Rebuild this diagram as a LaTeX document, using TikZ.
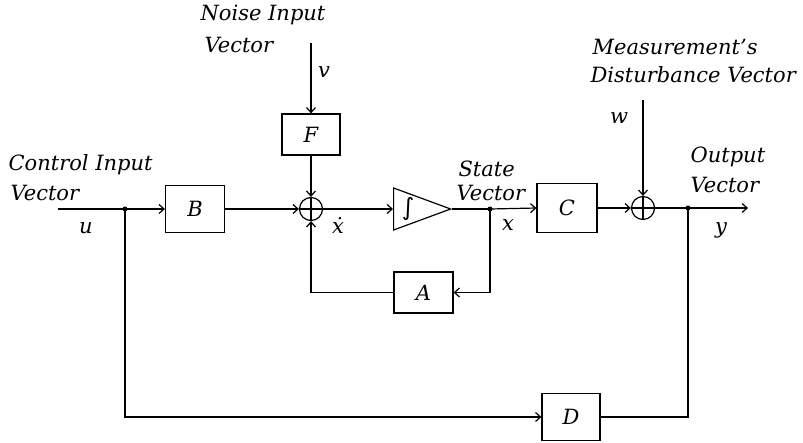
\documentclass[tikz,border=0pt]{standalone}
\usepackage{fontspec}
\setmainfont{DejaVu Serif}
\newfontfamily\dvsans{DejaVu Sans}
\usetikzlibrary{arrows.meta,shapes.geometric}
\begin{document}
\begin{tikzpicture}[x=1pt,y=-1pt,
  line width=1.2pt,
  >={Straight Barb[length=5pt,width=9pt]},
  blk/.style={draw,minimum width=58pt,minimum height=44pt,inner sep=0pt,font=\fontsize{21}{21}\selectfont\itshape},
  sum/.style={draw,circle,minimum size=23pt,inner sep=0pt,
    path picture={\draw[line width=1.2pt] (path picture bounding box.north) -- (path picture bounding box.south)
      (path picture bounding box.west) -- (path picture bounding box.east);}},
  lbl/.style={anchor=west,inner sep=0pt,font=\fontsize{21}{21}\selectfont\itshape},
  sym/.style={inner sep=0pt,font=\fontsize{21}{21}\selectfont\itshape},
  dot/.style={circle,fill,inner sep=0pt,minimum size=5pt}]
\useasboundingbox (0,0) rectangle (803,442);
% nodes
\coordinate (in) at (58,209);
\node[dot] (j1) at (125,209) {};
\node[blk,minimum width=59pt,minimum height=47pt] (B) at (195,209) {B};
\node[sum] (s1) at (311,209) {};
\node[blk,minimum width=58pt,minimum height=41pt] (F) at (311,134.5) {F};
\coordinate (vtop) at (311,43);
\node[draw,isosceles triangle,isosceles triangle stretches,shape border rotate=0,
  minimum width=42pt,minimum height=57pt,inner sep=0pt,anchor=west] (I) at (393,209) {};
\node[inner sep=0pt] (intsym) at (408,209) {\dvsans\fontsize{24}{24}\selectfont ∫};
\node[dot] (j2) at (490,209) {};
\node[blk,minimum width=60pt,minimum height=49pt] (C) at (567,208) {C};
\node[sum] (s2) at (643,208) {};
\coordinate (wtop) at (643,100);
\node[dot] (j3) at (688,208) {};
\coordinate (out) at (748,208);
\node[blk,minimum width=59pt,minimum height=41pt] (A) at (423.5,292.5) {A};
\node[blk,minimum width=58pt,minimum height=47pt] (D) at (571,417) {D};
% connectors
\draw (in) -- (j1.center);
\draw[->] (j1.center) -- (B.west);
\draw[->] (B.east) -- (s1.west);
\draw[->] (vtop) -- (F.north);
\draw[->] (F.south) -- (s1.north);
\draw[->] (s1.east) -- (I.west);
\draw (I.apex) -- (j2.center);
\draw[->] (j2.center) -- (C.west);
\draw[->] (C.east) -- (s2.west);
\draw[->] (wtop) -- (s2.north);
\draw (s2.east) -- (j3.center);
\draw[->] (j3.center) -- (out);
\draw[->] (j2.center) |- (A.east);
\draw[->] (A.west) -| (s1.south);
\draw[->] (j1.center) |- (D.west);
\draw (D.east) -| (j3.center);
% labels
\node[lbl] (t1) at (8,165) {Control Input};
\node[lbl] (t2) at (10,193) {Vector};
\node[sym] (lu) at (86,228) {u};
\node[lbl] (t3) at (200,15) {Noise Input};
\node[lbl] (t4) at (204,45) {Vector};
\node[sym] (lv) at (324,72) {v};
\node[sym] (lxd) at (338,225) {\.x};
\node[lbl] (t5) at (458,169) {State};
\node[lbl] (t6) at (456,193) {Vector};
\node[sym] (lx) at (508,225) {x};
\node[lbl] (t7) at (592,47) {Measurement's};
\node[lbl] (t8) at (590,75) {Disturbance Vector};
\node[sym] (lw) at (619,118) {w};
\node[lbl] (t9) at (690,157) {Output};
\node[lbl] (t10) at (690,185) {Vector};
\node[sym] (ly) at (721,230) {y};
\end{tikzpicture}
\end{document}
